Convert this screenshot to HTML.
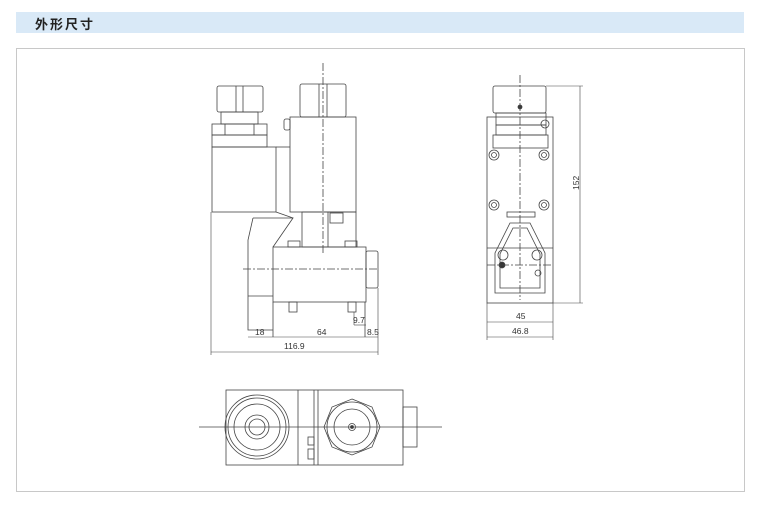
<!DOCTYPE html>
<html><head><meta charset="utf-8"><style>
html,body{margin:0;padding:0;background:#fff;width:762px;height:505px;overflow:hidden}
.hdr{position:absolute;left:16px;top:12px;width:728px;height:21px;background:#d9e9f7}
.hdr span{position:absolute;left:19px;top:2px;font:bold 13px "Liberation Sans","Noto Sans CJK SC",sans-serif;color:#222;letter-spacing:2px}
.frame{position:absolute;left:16px;top:48px;width:727px;height:442px;border:1px solid #c8c8c8}
svg{position:absolute;left:0;top:0}
</style></head><body>
<div class="hdr"><span>外形尺寸</span></div>
<div class="frame"></div>
<svg width="762" height="505" viewBox="0 0 762 505" font-family="Liberation Sans,sans-serif" font-size="8.5" fill="none" stroke="#444" stroke-width="0.8">
<!-- LEFT VIEW -->
<rect x="217" y="86" width="46" height="26" rx="2"/>
<line x1="236" y1="86" x2="236" y2="112"/><line x1="243" y1="86" x2="243" y2="112"/>
<rect x="221" y="112" width="37" height="12"/>
<rect x="212" y="124" width="55" height="11"/>
<line x1="225" y1="124" x2="225" y2="135"/><line x1="254" y1="124" x2="254" y2="135"/>
<rect x="212" y="135" width="55" height="12"/>
<rect x="212" y="147" width="64" height="65"/>
<line x1="276" y1="147" x2="290" y2="147"/>
<rect x="300" y="84" width="46" height="33" rx="2"/>
<line x1="319" y1="84" x2="319" y2="117"/><line x1="327" y1="84" x2="327" y2="117"/>
<rect x="290" y="117" width="66" height="95"/>
<rect x="284" y="119" width="6" height="11" rx="2"/>
<polyline points="253,218 293,218 273,247"/>
<polyline points="253,218 248,240 248,330 273,330"/>
<line x1="276" y1="212" x2="293" y2="218"/>
<rect x="302" y="212" width="54" height="35"/>
<line x1="328" y1="212" x2="328" y2="247"/>
<rect x="330" y="213" width="13" height="10"/>
<rect x="288" y="241" width="12" height="6"/><rect x="345" y="241" width="12" height="6"/>
<rect x="273" y="247" width="93" height="55"/>
<line x1="248" y1="296" x2="273" y2="296"/>
<rect x="366" y="251" width="12" height="37" rx="2"/>
<line x1="273" y1="302" x2="273" y2="337"/><line x1="365" y1="302" x2="365" y2="337"/>
<rect x="289" y="302" width="8" height="10"/><rect x="348" y="302" width="8" height="10"/>
<line x1="323" y1="63" x2="323" y2="253" stroke-dasharray="8,2,2,2"/>
<line x1="243" y1="269" x2="378" y2="269" stroke-dasharray="8,2,2,2"/>
<line x1="211" y1="212" x2="211" y2="355" stroke-width="0.6"/>
<line x1="378" y1="288" x2="378" y2="355" stroke-width="0.6"/>
<line x1="248" y1="337" x2="378" y2="337" stroke-width="0.6"/>
<line x1="211" y1="352" x2="378" y2="352" stroke-width="0.6"/>
<line x1="354" y1="325" x2="366" y2="325" stroke-width="0.6"/>
<line x1="354" y1="312" x2="354" y2="325" stroke-width="0.6"/>
<g fill="#333" stroke="none">
<text x="255" y="335">18</text><text x="317" y="335">64</text><text x="367" y="335">8.5</text><text x="353" y="323">9.7</text><text x="284" y="349">116.9</text>
</g>
<!-- RIGHT VIEW -->
<rect x="493" y="86" width="53" height="27" rx="2"/>
<rect x="496" y="113" width="50" height="12"/>
<rect x="487" y="117" width="66" height="186"/>
<rect x="496" y="125" width="50" height="10"/>
<rect x="493" y="135" width="55" height="13"/>
<circle cx="520" cy="107" r="2" fill="#333"/>
<g>
<circle cx="494" cy="155" r="5"/><circle cx="494" cy="155" r="2.5"/>
<circle cx="544" cy="155" r="5"/><circle cx="544" cy="155" r="2.5"/>
<circle cx="494" cy="205" r="5"/><circle cx="494" cy="205" r="2.5"/>
<circle cx="544" cy="205" r="5"/><circle cx="544" cy="205" r="2.5"/>
<circle cx="503" cy="255" r="5"/><circle cx="537" cy="255" r="5"/>
<circle cx="502" cy="265" r="3" fill="#333"/><circle cx="538" cy="273" r="3"/>
<circle cx="545" cy="124" r="4"/>
</g>
<rect x="507" y="212" width="28" height="5"/>
<polygon points="510,223 530,223 545,253 545,293 495,293 495,253"/>
<polygon points="513,228 527,228 540,254 540,288 500,288 500,254"/>
<line x1="487" y1="248" x2="553" y2="248"/>
<line x1="520" y1="75" x2="520" y2="300" stroke-dasharray="8,2,2,2"/>
<line x1="487" y1="265" x2="553" y2="265" stroke-dasharray="8,2,2,2"/>
<line x1="546" y1="86" x2="583" y2="86" stroke-width="0.6"/>
<line x1="553" y1="303" x2="583" y2="303" stroke-width="0.6"/>
<line x1="580" y1="86" x2="580" y2="303" stroke-width="0.6"/>
<line x1="487" y1="303" x2="487" y2="340" stroke-width="0.6"/>
<line x1="553" y1="303" x2="553" y2="340" stroke-width="0.6"/>
<line x1="487" y1="322" x2="553" y2="322" stroke-width="0.6"/>
<line x1="487" y1="337" x2="553" y2="337" stroke-width="0.6"/>
<g fill="#333" stroke="none">
<text x="516" y="319">45</text><text x="512" y="334">46.8</text>
<text transform="translate(579,190) rotate(-90)">152</text>
</g>
<!-- BOTTOM VIEW -->
<rect x="226" y="390" width="177" height="75"/>
<line x1="298" y1="390" x2="298" y2="465"/>
<line x1="314" y1="390" x2="314" y2="465"/><line x1="318" y1="390" x2="318" y2="465"/>
<circle cx="257" cy="427" r="32"/><circle cx="257" cy="427" r="29"/><circle cx="257" cy="427" r="23"/>
<circle cx="257" cy="427" r="12"/><circle cx="257" cy="427" r="8"/>
<polygon points="352,399 372,407 380,427 372,447 352,455 332,447 324,427 332,407"/>
<circle cx="352" cy="427" r="25"/><circle cx="352" cy="427" r="18"/><circle cx="352" cy="427" r="3.5"/>
<circle cx="352" cy="427" r="1.5" fill="#333"/>
<rect x="403" y="407" width="14" height="40"/>
<rect x="308" y="437" width="6" height="8"/><rect x="308" y="449" width="6" height="10"/>
<line x1="199" y1="427" x2="442" y2="427"/>
</svg>
</body></html>
